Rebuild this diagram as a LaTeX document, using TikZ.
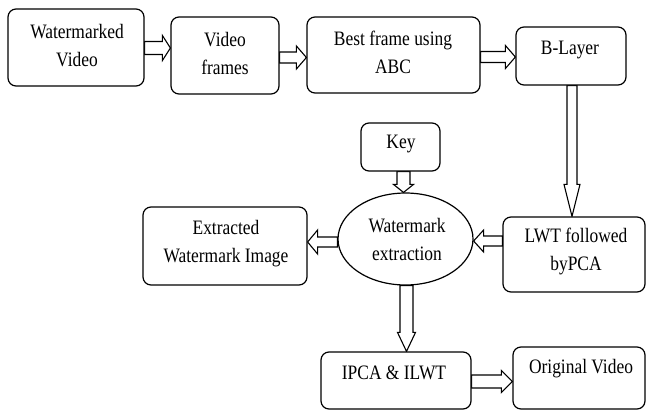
\documentclass[tikz,border=0pt]{standalone}
\usepackage{fontspec}
\setmainfont{Liberation Serif}[FakeStretch=0.85]
\usetikzlibrary{calc,shapes.geometric}
\pgfdeclarelayer{background}
\pgfsetlayers{background,main}
\tikzset{
 box/.style={draw, fill=white, line width=1.2pt, rounded corners=8pt, inner sep=0pt},
 oval/.style={draw, fill=white, ellipse, line width=1.2pt, inner sep=0pt, minimum width=135pt, minimum height=92pt},
 txt/.style={align=center, font=\fontsize{20.5}{28}\selectfont, inner sep=0pt},
 blk/.style={draw, fill=white, line width=1.1pt, line join=miter},
}
% right-pointing hollow arrow: from #1.east to #2.west at y=#3; shaft half #4, head half #5, head length #6
\newcommand\arrR[6]{\draw[blk] let \p1=(#1.east), \p2=(#2.west) in
 (\x1,#3pt+#4pt) -- (\x2-#6pt,#3pt+#4pt) -- (\x2-#6pt,#3pt+#5pt) -- (\x2,#3pt) --
 (\x2-#6pt,#3pt-#5pt) -- (\x2-#6pt,#3pt-#4pt) -- (\x1,#3pt-#4pt) -- cycle;}
% left-pointing: from #1.west to #2.east
\newcommand\arrL[6]{\draw[blk] let \p1=(#1.west), \p2=(#2.east) in
 (\x1,#3pt+#4pt) -- (\x2+#6pt,#3pt+#4pt) -- (\x2+#6pt,#3pt+#5pt) -- (\x2,#3pt) --
 (\x2+#6pt,#3pt-#5pt) -- (\x2+#6pt,#3pt-#4pt) -- (\x1,#3pt-#4pt) -- cycle;}
% down-pointing: from #1.south to #2.north at x=#3
\newcommand\arrD[6]{\draw[blk] let \p1=(#1.south), \p2=(#2.north) in
 (#3pt-#4pt,\y1) -- (#3pt-#4pt,\y2+#6pt) -- (#3pt-#5pt,\y2+#6pt) -- (#3pt,\y2) --
 (#3pt+#5pt,\y2+#6pt) -- (#3pt+#4pt,\y2+#6pt) -- (#3pt+#4pt,\y1) -- cycle;}
\begin{document}
\begin{tikzpicture}[x=1pt,y=1pt]
\useasboundingbox (0,0) rectangle (646,-410);
% boxes
\node[box, minimum width=136pt, minimum height=77pt] (b1) at (76,-47.5) {};
\node[box, minimum width=108pt, minimum height=77pt] (b2) at (225,-55.5) {};
\node[box, minimum width=173pt, minimum height=76pt] (b3) at (393.5,-55) {};
\node[box, minimum width=110pt, minimum height=58pt] (b4) at (571,-56) {};
\node[box, minimum width=79pt, minimum height=48pt] (key) at (400.5,-147) {};
\node[oval] (ex) at (405.5,-239) {};
\node[box, minimum width=164pt, minimum height=78pt] (img) at (225,-246) {};
\node[box, minimum width=142pt, minimum height=75pt] (lwt) at (574,-254.5) {};
\node[box, minimum width=150pt, minimum height=57pt] (ipca) at (396,-380.5) {};
\node[box, minimum width=132pt, minimum height=62pt] (orig) at (579,-378) {};
% texts
\node[txt] (t1) at (77,-46) {Watermarked\\Video};
\node[txt] (t2) at (225,-53) {Video\\frames};
\node[txt] (t3) at (393,-52.5) {Best frame using\\ABC};
\node[txt] (t4) at (570,-49.5) {B-Layer};
\node[txt] (tk) at (401,-144) {Key};
\node[txt] (te) at (407,-239) {Watermark\\extraction};
\node[txt] (ti) at (226,-244) {Extracted\\Watermark Image};
\node[txt] (tl) at (576,-251) {LWT followed\\byPCA};
\node[txt] (tp) at (394,-372.5) {IPCA \& ILWT};
\node[txt] (to) at (581,-368.5) {Original Video};
% arrows
\begin{pgfonlayer}{background}
\fill[white] (0,0) rectangle (646,-410);
\arrR{b1}{b2}{-48}{6.5}{12.5}{8}
\arrR{b2}{b3}{-57.5}{5.5}{11.5}{10}
\arrR{b3}{b4}{-57}{5.5}{11.5}{10}
\arrD{b4}{lwt}{572}{5}{8}{32}
\arrD{key}{ex}{403.5}{6.5}{10}{8}
\arrL{lwt}{ex}{-241}{5}{11}{10}
\arrL{ex}{img}{-242}{5}{12}{10}
\arrD{ex}{ipca}{406.5}{6.5}{9}{19}
\arrR{ipca}{orig}{-381.5}{6.5}{11}{11}
\end{pgfonlayer}
\end{tikzpicture}
\end{document}
